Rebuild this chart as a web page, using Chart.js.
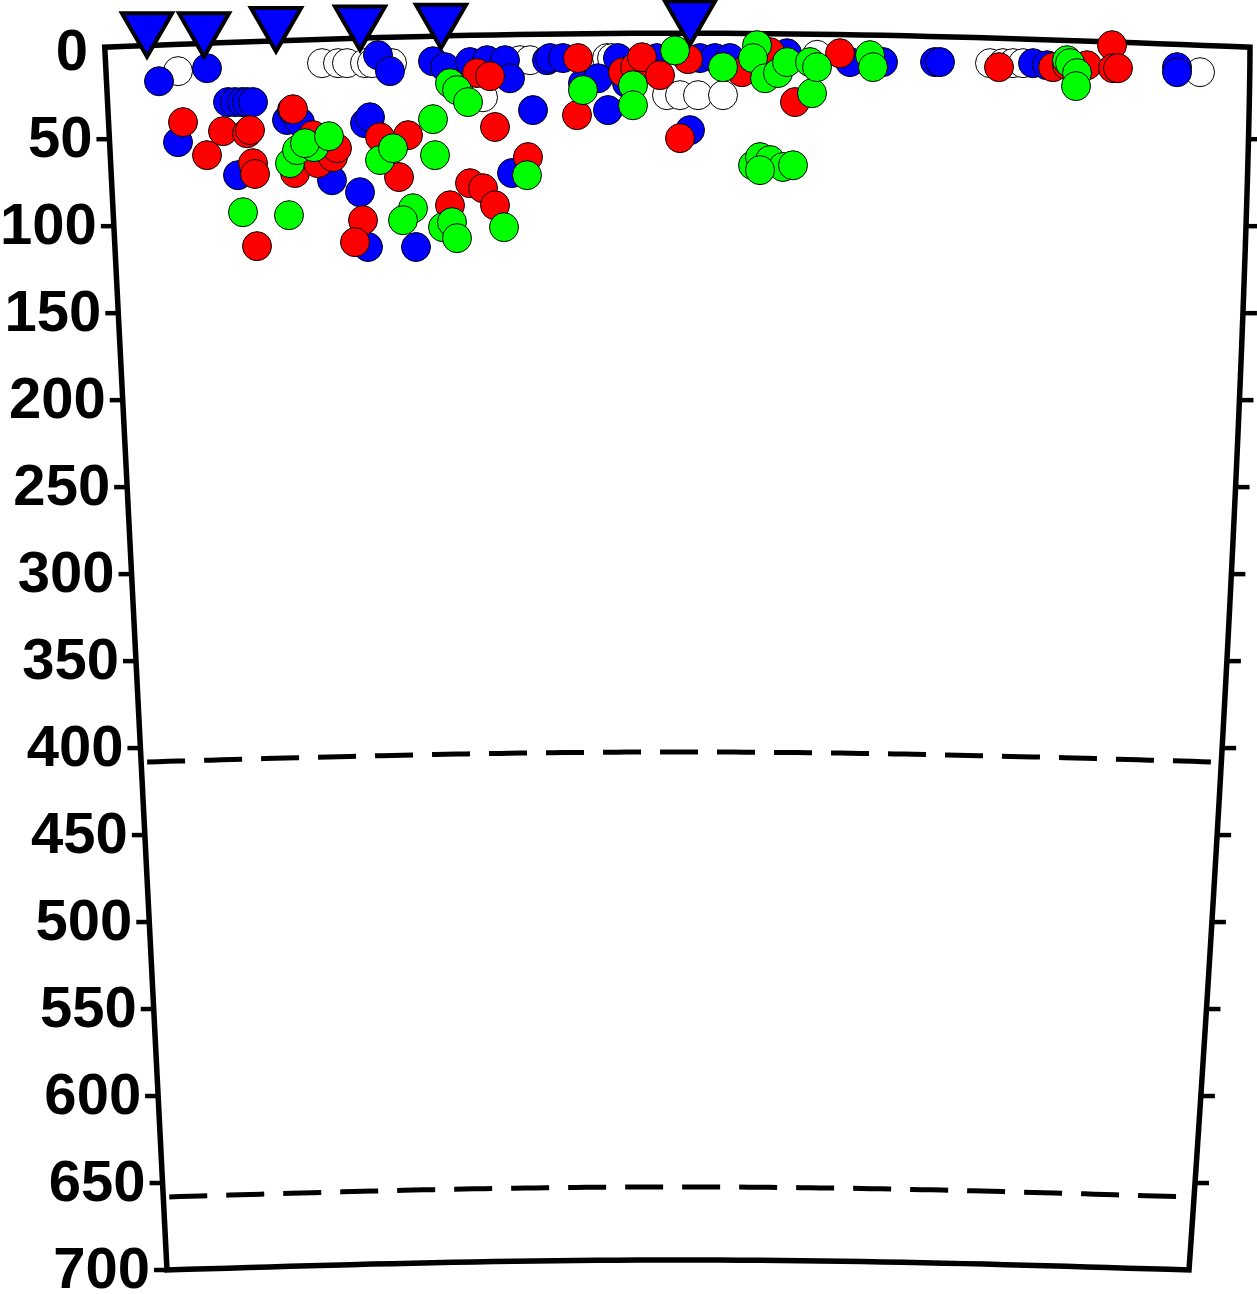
<!DOCTYPE html>
<html>
<head>
<meta charset="utf-8">
<script src="https://cdn.jsdelivr.net/npm/chart.js@4"></script>
<style>
  html, body { margin: 0; padding: 0; background: #fff; overflow: hidden; }
  canvas { display: block; }
</style>
</head>
<body>
<canvas id="chart" width="1257" height="1294"></canvas>
<script>
// depth axis (km), distance along profile in arbitrary units 0..115
const depthTicks = [0, 50, 100, 150, 200, 250, 300, 350, 400, 450, 500, 550, 600, 650, 700];
const horizons = [408, 658]; // dashed discontinuities

// stations on the surface
const stations = [[4.7, -14], [10.4, -14], [17.6, -17], [26, -18], [34.1, -19], [59, -21]];

// hypocentres [distance, depth]
const whiteQuakes = [
  [7.8, 10.9], [22.2, 6.3], [23.8, 6.3], [24.7, 6.3], [26.5, 6.3], [27.2, 6.3], [29.2, 6.3],
  [38.3, 25.9], [42, 4.6], [43, 4.6], [50.7, 3.4], [51.2, 3.4], [56.7, 24.7], [58, 24.7],
  [59.8, 24.7], [62.3, 24.7], [71.7, 1.5], [89, 6.3], [90.3, 6.3], [91.3, 6.3], [92.3, 6.3],
  [110, 11.5]
];
const blueQuakes = [
  [5.9, 16.7], [10.7, 9.2], [12.8, 28.7], [13.5, 28.7], [14.2, 28.7], [14.7, 28.7], [15.3, 28.7],
  [7.8, 51.7], [13.8, 70.7], [18.7, 39], [19.2, 33.3], [20, 40.2], [23.2, 73.6], [26, 80.5],
  [26.5, 40.8], [27, 37.4], [26.8, 112], [31.6, 112], [27.8, 1.7], [29, 10.9], [33.3, 5.2],
  [34.5, 8.6], [37, 5.7], [38.7, 4.6], [40.5, 4.6], [41, 15], [44.7, 4.6], [45, 3.4], [46.3, 3.4],
  [43.3, 33.3], [41.2, 69.5], [48.3, 17.8], [49.8, 15], [50.8, 33.3], [51.8, 3.4], [52.7, 17.8],
  [55.7, 3.4], [59, 44.8], [60, 3.4], [61.5, 3.4], [63, 3.4], [68.7, 0.6], [75, 5.7], [78.3, 5.7],
  [83.5, 5.7], [84, 5.7], [93.3, 6.3], [94.7, 7.5], [107.7, 8.6], [107.7, 11.5]
];
const redQuakes = [
  [8.3, 40.2], [10.7, 59.2], [12.3, 45.4], [14.7, 46.6], [15, 44.8], [15.3, 63.8], [15.5, 70],
  [15.7, 111.5], [19.3, 32.8], [19.5, 69.5], [21.3, 47.7], [21.8, 63.8], [23.3, 60.3], [23.7, 55.2],
  [28, 48.9], [30.8, 47.7], [29.9, 71.8], [26.3, 96.6], [25.5, 109.2], [35, 88], [37, 75.3],
  [38.3, 78.2], [39.5, 88], [37.7, 12], [39, 13.8], [39.5, 43], [42.8, 60.3], [47.8, 3.4],
  [47.7, 36.2], [52.3, 11.5], [53.5, 8.6], [54.2, 2.9], [56, 13.2], [58.8, 4], [58, 49.4],
  [64.2, 11.5], [67, 0], [69.5, 28.7], [74, 0.6], [89.9, 8.6], [95.3, 8.6], [96.7, 7.5],
  [98.7, 7.5], [101.2, -4], [101.3, 9.2], [101.8, 9.2]
];
const greenQuakes = [
  [14.3, 92], [18.9, 93.7], [19, 63.8], [19.7, 56.3], [21.4, 54.6], [20.5, 52.3], [22.9, 48.3],
  [28, 62], [29.3, 55.2], [33.3, 38.5], [33.5, 59.2], [31.3, 89.7], [30.3, 96.6], [34.3, 100.6],
  [35.2, 97.7], [35.7, 106.9], [40.4, 100.6], [42.7, 70.7], [35, 17.8], [35.7, 21.8], [36.8, 28.7],
  [48.3, 21.8], [53.3, 19], [53.3, 30.5], [57.5, -1], [62.3, 8.6], [65.7, -4], [65.3, 3.4],
  [66.5, 15], [67.8, 12], [68.7, 5.7], [71.2, 23.6], [71, 5.7], [71.7, 8.6], [77, 1.7], [77.3, 8.6],
  [65.3, 65], [66, 60.3], [67, 62], [68.3, 66], [69.3, 65], [66, 67.8], [96.7, 4.6], [97, 6.3],
  [97.7, 12], [97.6, 19.5]
];

const toPts = arr => arr.map(([x, y]) => ({ x, y }));

function quakeSet(arr, fill) {
  return {
    data: toPts(arr),
    backgroundColor: fill,
    borderColor: "#000",
    borderWidth: 1,
    pointRadius: 14.5,
    clip: false,
  };
}

// hand drawn looking frame, ticks, labels and dashed horizons
const framePlugin = {
  id: "frame",
  beforeDatasetsDraw(chart) {
    const { ctx, chartArea: a, scales } = chart;
    const ys = scales.y;
    const top = ys.getPixelForValue(0);
    const bottom = ys.getPixelForValue(700);
    const h = bottom - top;
    const leftAt = (py) => a.left + 5 + 62 * (py - top) / h;
    const rightAt = (py) => a.right - 61 * Math.pow(Math.max(0, (py - top) / h), 1.4);

    ctx.save();
    ctx.strokeStyle = "#000";
    ctx.lineWidth = 5.5;
    ctx.lineJoin = "miter";

    const topY = top - 5;
    const x0 = leftAt(topY), x1 = rightAt(topY);
    const bx0 = leftAt(bottom), bx1 = rightAt(bottom);

    ctx.beginPath();
    ctx.moveTo(bx0, bottom);
    ctx.lineTo(x0, topY);
    for (let s = 0; s <= 1.0001; s += 0.02) {
      ctx.lineTo(x0 + s * (x1 - x0), topY - 14 * Math.sin(Math.PI * s));
    }
    for (let py = topY; py <= bottom; py += 20) ctx.lineTo(rightAt(py), py);
    ctx.lineTo(bx1, bottom);
    for (let s = 1; s >= -0.0001; s -= 0.02) {
      ctx.lineTo(bx0 + s * (bx1 - bx0), bottom - 10 * Math.sin(Math.PI * s));
    }
    ctx.closePath();
    ctx.stroke();

    // ticks and labels
    ctx.font = "bold 58px 'Liberation Sans', Arial, sans-serif";
    ctx.fillStyle = "#000";
    ctx.textAlign = "right";
    ctx.textBaseline = "middle";
    ctx.lineWidth = 4.5;
    depthTicks.forEach((v) => {
      const py = ys.getPixelForValue(v);
      const lx = leftAt(py);
      if (v > 0) {
        ctx.beginPath();
        ctx.moveTo(lx - 13, py);
        ctx.lineTo(lx, py);
        ctx.stroke();
      }
      if (v > 0 && v < 700) {
        const rx = rightAt(py);
        ctx.beginPath();
        ctx.moveTo(rx, py);
        ctx.lineTo(rx + 14, py);
        ctx.stroke();
      }
      ctx.fillText(String(v), lx - 17, py + 2);
    });

    // dashed discontinuities
    ctx.lineWidth = 5;
    ctx.setLineDash([38, 19]);
    horizons.forEach((v) => {
      const py = ys.getPixelForValue(v);
      const ax = leftAt(py) + 6, bx = rightAt(py) - 8;
      ctx.beginPath();
      for (let s = 0; s <= 1.0001; s += 0.01) {
        const px = ax + s * (bx - ax);
        const yy = py - 10 * Math.sin(Math.PI * s);
        if (s === 0) ctx.moveTo(px, yy); else ctx.lineTo(px, yy);
      }
      ctx.stroke();
    });
    ctx.restore();
  },
};

new Chart(document.getElementById("chart"), {
  type: "scatter",
  data: {
    datasets: [
      {
        data: toPts(stations),
        pointStyle: "triangle",
        rotation: 180,
        pointRadius: 29,
        backgroundColor: "#0000ff",
        borderColor: "#000",
        borderWidth: 4,
        clip: false,
      },
      quakeSet(greenQuakes, "#00ff00"),
      quakeSet(redQuakes, "#ff0000"),
      quakeSet(blueQuakes, "#0000ff"),
      quakeSet(whiteQuakes, "#ffffff"),
    ],
  },
  options: {
    responsive: false,
    animation: false,
    events: [],
    layout: { autoPadding: false, padding: { left: 100, right: 7, top: 0, bottom: 24 } },
    scales: {
      x: { type: "linear", min: 0, max: 115, display: false },
      y: { type: "linear", min: -30, max: 700, reverse: true, display: false },
    },
    plugins: { legend: { display: false }, tooltip: { enabled: false } },
  },
  plugins: [framePlugin],
});
</script>
</body>
</html>
